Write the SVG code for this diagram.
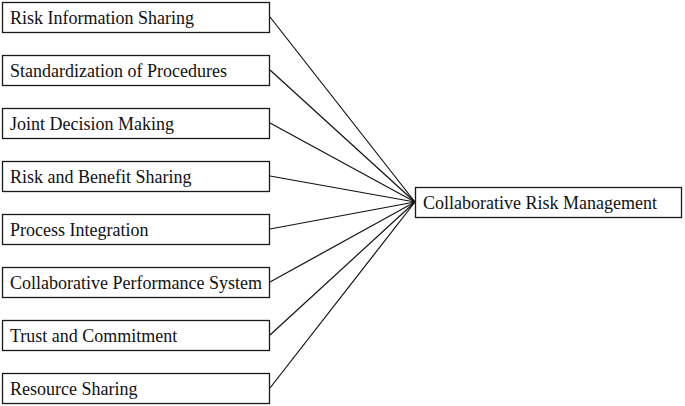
<svg xmlns="http://www.w3.org/2000/svg" width="685" height="406" viewBox="0 0 685 406">
<style>
rect{fill:#fff;stroke:#1a1a1a;stroke-width:1.3}
text{font-family:"Liberation Serif","Times New Roman",serif;font-size:18px;fill:#111}
#connectors line{stroke:#111;stroke-width:1.2}
</style>
<rect x="0" y="0" width="685" height="406" style="stroke:none"/>
<g id="connectors">
<line x1="270" y1="17" x2="415" y2="202"/>
<line x1="270" y1="70" x2="415" y2="202"/>
<line x1="270" y1="123" x2="415" y2="202"/>
<line x1="270" y1="176" x2="415" y2="202"/>
<line x1="270" y1="229" x2="415" y2="202"/>
<line x1="270" y1="282" x2="415" y2="202"/>
<line x1="270" y1="335" x2="415" y2="202"/>
<line x1="270" y1="388" x2="415" y2="202"/>
</g>
<g id="n1"><rect x="2.5" y="2.5" width="267" height="30"/><text x="10" y="24">Risk Information Sharing</text></g>
<g id="n2"><rect x="2.5" y="55.5" width="267" height="30"/><text x="10" y="77">Standardization of Procedures</text></g>
<g id="n3"><rect x="2.5" y="108.5" width="267" height="30"/><text x="10" y="130">Joint Decision Making</text></g>
<g id="n4"><rect x="2.5" y="161.5" width="267" height="30"/><text x="10" y="183">Risk and Benefit Sharing</text></g>
<g id="n5"><rect x="2.5" y="214.5" width="267" height="30"/><text x="10" y="236">Process Integration</text></g>
<g id="n6"><rect x="2.5" y="267.5" width="267" height="30"/><text x="10" y="289">Collaborative Performance System</text></g>
<g id="n7"><rect x="2.5" y="320.5" width="267" height="30"/><text x="10" y="342">Trust and Commitment</text></g>
<g id="n8"><rect x="2.5" y="373.5" width="267" height="30"/><text x="10" y="395">Resource Sharing</text></g>
<g id="target"><rect x="415.5" y="187.5" width="266" height="30"/><text x="423" y="209">Collaborative Risk Management</text></g>
</svg>
